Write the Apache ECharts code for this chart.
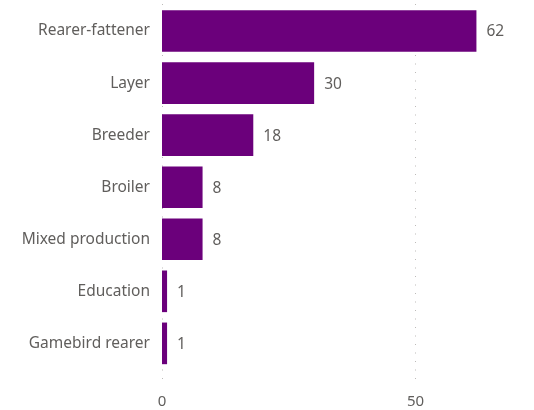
<!DOCTYPE html>
<html>
<head>
<meta charset="utf-8">
<script src="https://cdn.jsdelivr.net/npm/echarts@6/dist/echarts.min.js"></script>
<style>
  html, body { margin: 0; padding: 0; background: #fff; }
  #chart { width: 534px; height: 410px; }
</style>
</head>
<body>
<div id="chart"></div>
<script>
// Holdings by production type
const categories = ['Rearer-fattener', 'Layer', 'Breeder', 'Broiler', 'Mixed production', 'Education', 'Gamebird rearer'];
const counts = [62, 30, 18, 8, 8, 1, 1];
const xTicks = [0, 50];

const FONT = '"Noto Sans", "Open Sans", sans-serif';
const TEXT = '#605E5C';
const BAR = '#6B007B';
const X_MIN = 0, X_MAX = 70;
const LEFT = 162, RIGHT = 17;

const chart = echarts.init(document.getElementById('chart'), null, { renderer: 'canvas' });
chart.setOption({
  animation: false,
  textStyle: { fontFamily: FONT },
  grid: [
    { left: LEFT, right: RIGHT, top: 5, height: 364.4 },   // bars
    { left: LEFT, right: RIGHT, top: 4, height: 381 }      // value axis + dotted gridlines
  ],
  xAxis: [
    {
      gridIndex: 0, type: 'value', min: X_MIN, max: X_MAX, interval: 50,
      axisLine: { show: false }, axisTick: { show: false },
      axisLabel: { show: false }, splitLine: { show: false }
    },
    {
      gridIndex: 1, type: 'value', min: X_MIN, max: X_MAX, interval: 50,
      axisLine: { show: false }, axisTick: { show: false },
      axisLabel: {
        color: TEXT, fontSize: 15, fontFamily: FONT, margin: 9,
        showMaxLabel: false,
        formatter: v => xTicks.includes(v) ? String(v) : ''
      },
      splitLine: {
        show: true, showMaxLine: false,
        lineStyle: { color: '#BDBBB9', type: [1, 7.5], width: 1 }
      }
    }
  ],
  yAxis: [
    {
      gridIndex: 0, type: 'category', data: categories, inverse: true,
      axisLine: { show: false }, axisTick: { show: false },
      axisLabel: { color: TEXT, fontSize: 15.5, fontFamily: FONT, margin: 12 }
    },
    {
      gridIndex: 1, type: 'value', min: 0, max: 1,
      axisLine: { show: false }, axisTick: { show: false },
      axisLabel: { show: false }, splitLine: { show: false }
    }
  ],
  series: [{
    type: 'bar',
    xAxisIndex: 0, yAxisIndex: 0,
    data: counts,
    barWidth: '80%',
    itemStyle: { color: BAR },
    label: {
      show: true, position: 'right', distance: 10, offset: [0, 1],
      color: TEXT, fontSize: 15.5, fontFamily: FONT
    }
  }]
});
</script>
</body>
</html>
